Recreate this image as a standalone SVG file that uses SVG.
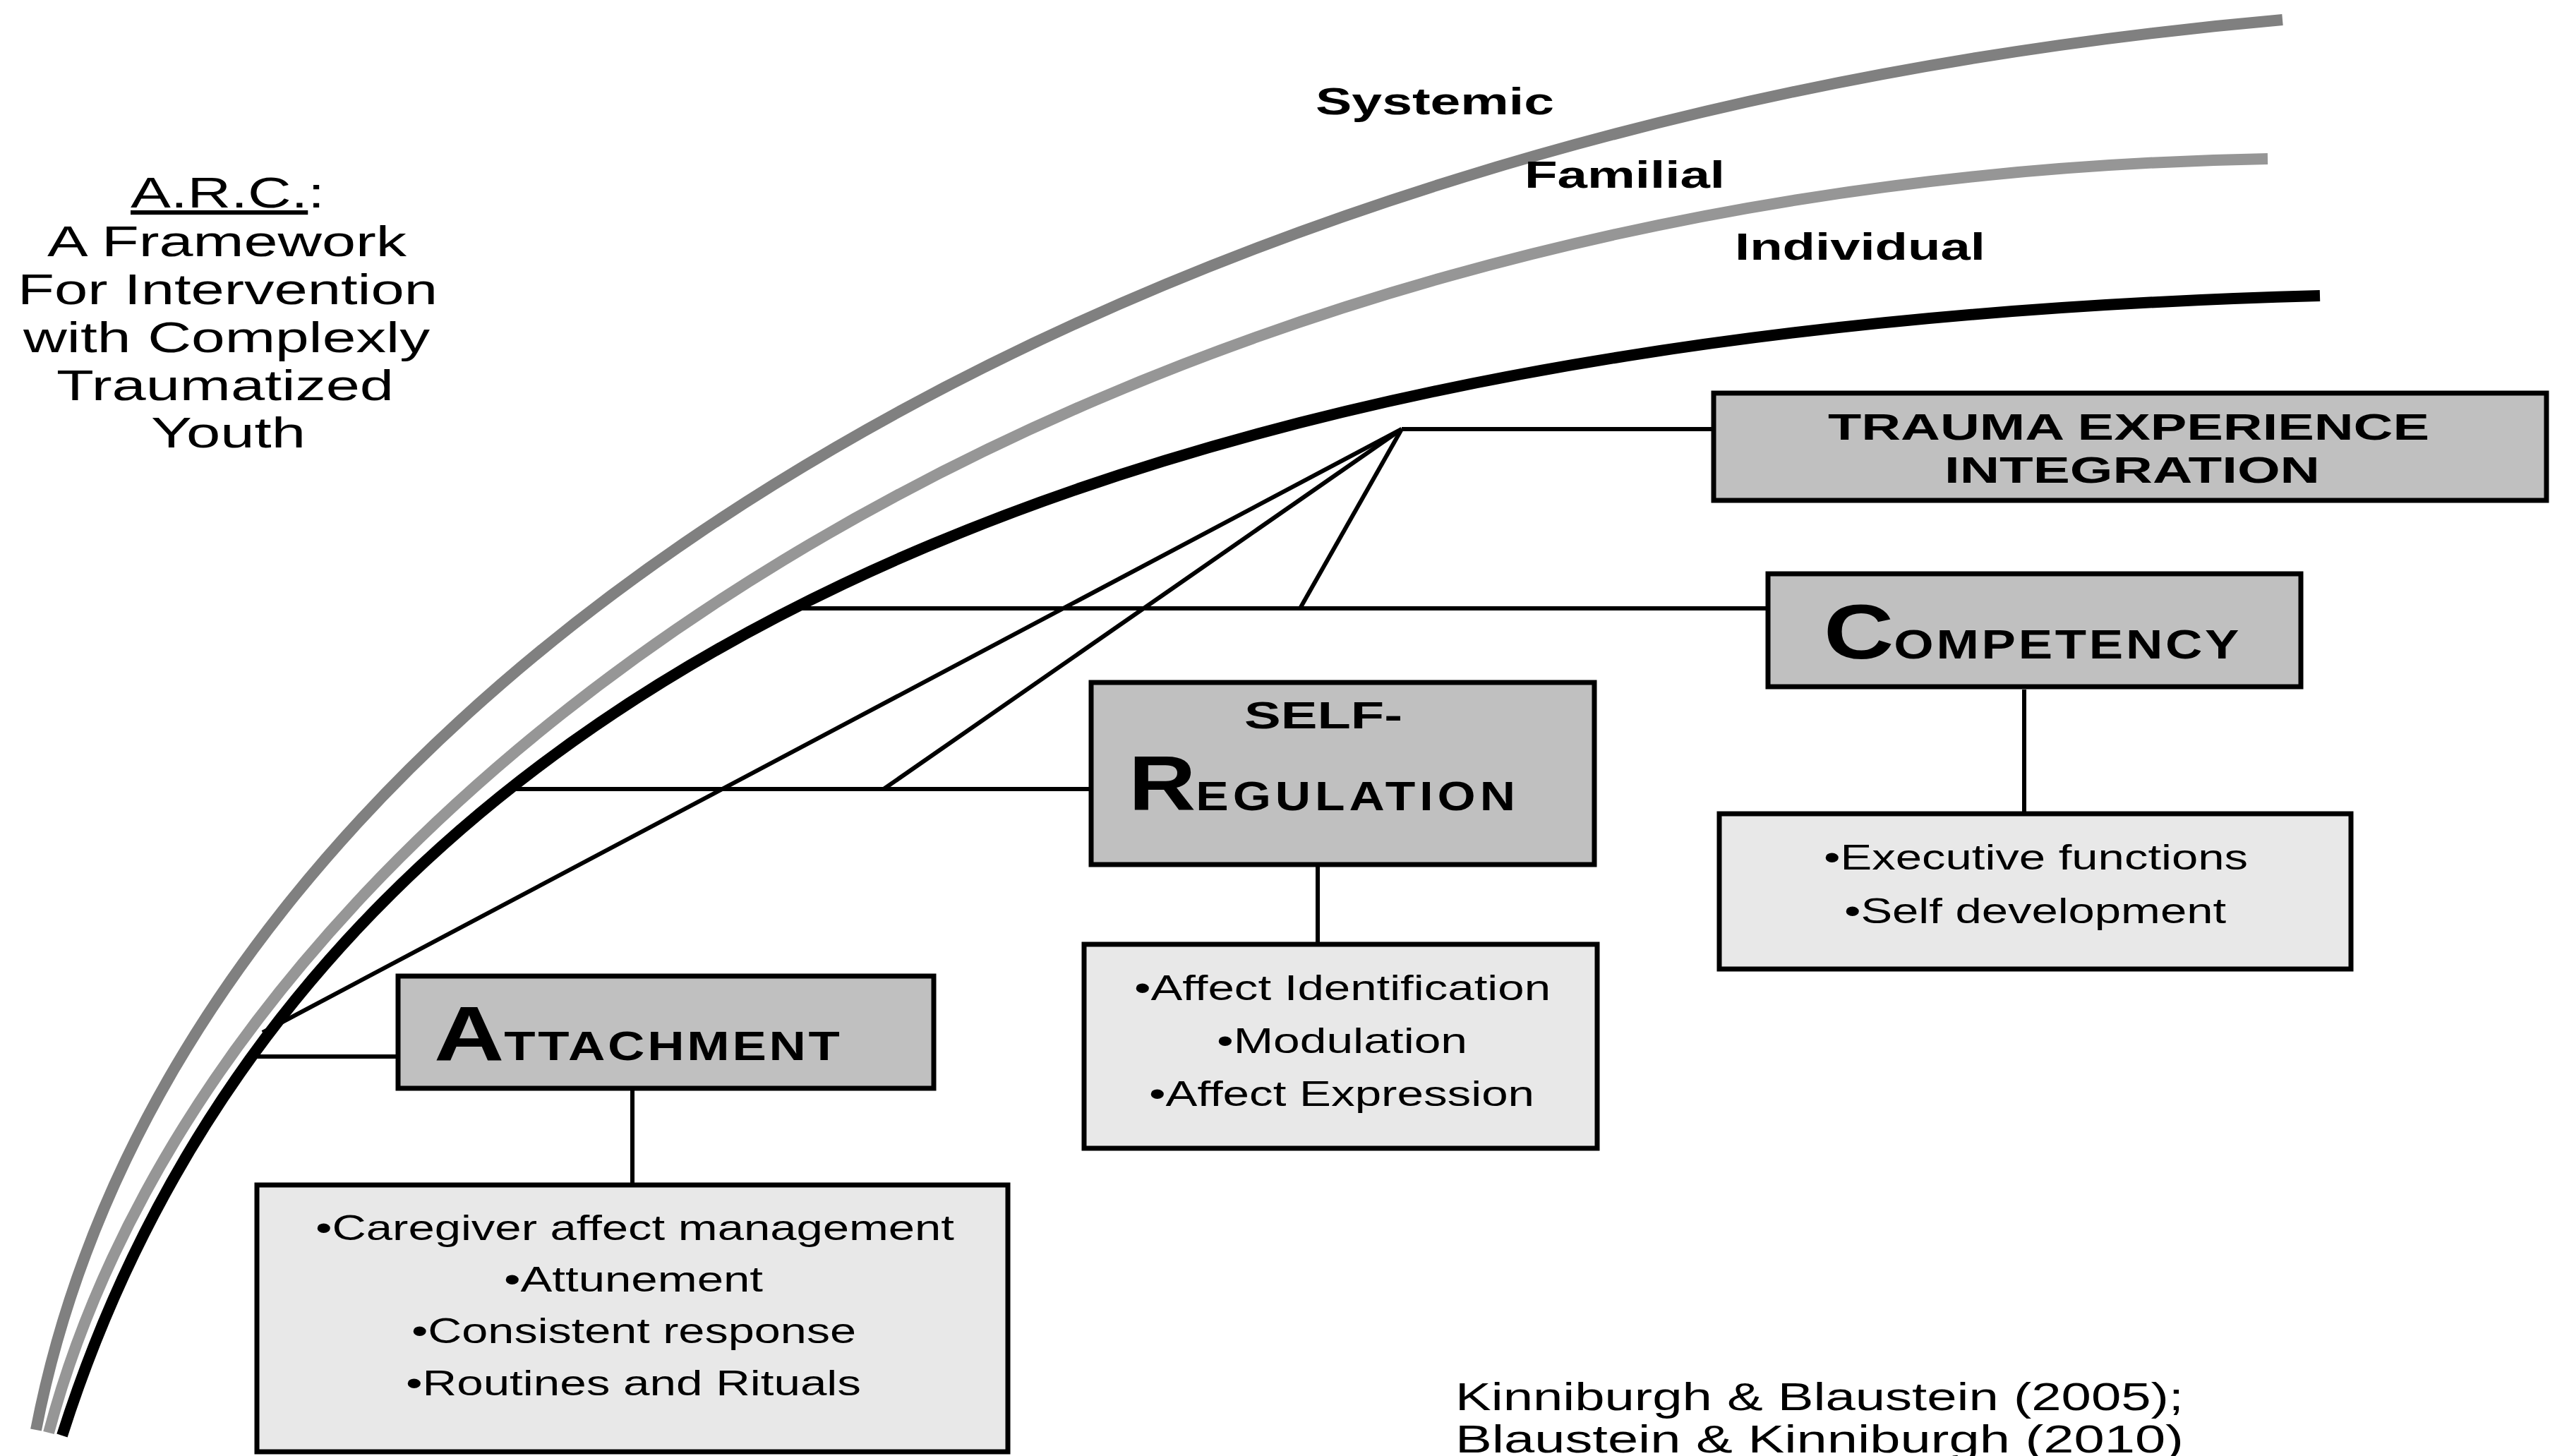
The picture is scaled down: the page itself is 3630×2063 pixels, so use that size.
<svg xmlns="http://www.w3.org/2000/svg" width="3630" height="2063" viewBox="0 0 3630 2063">
<style>
  .t { font-family: "Liberation Sans", Arial, sans-serif; fill: #000; }
  .b { font-weight: bold; }
  .hdr { fill: #c0c0c0; stroke: #000; stroke-width: 7; }
  .lst { fill: #e8e8e8; stroke: #000; stroke-width: 7; }
  .conn { stroke: #000; stroke-width: 6; fill: none; stroke-linecap: butt; }
  .arc { fill: none; stroke-linecap: butt; }
  .big { font-size: 110px; }
  .sc { font-size: 58px; letter-spacing: 3px; }
</style>
<rect width="3630" height="2063" fill="#fff"/>

<g id="layers">
  <path id="systemic-arc" class="arc" d="M51,2026 C255,972 1574,174 3234,28" stroke="#808080" stroke-width="16"/>
  <path id="familial-arc" class="arc" d="M69,2030 C313,1111 1551,255 3213,225" stroke="#969696" stroke-width="16"/>
  <path id="individual-arc" class="arc" d="M88,2034 C440,926 1621,463 3287,419" stroke="#000" stroke-width="16"/>
  <text id="lbl-systemic" class="t b" x="1864" y="162" font-size="54" textLength="338" lengthAdjust="spacingAndGlyphs">Systemic</text>
  <text id="lbl-familial" class="t b" x="2160" y="266" font-size="54" textLength="284" lengthAdjust="spacingAndGlyphs">Familial</text>
  <text id="lbl-individual" class="t b" x="2458" y="368" font-size="54" textLength="355" lengthAdjust="spacingAndGlyphs">Individual</text>
</g>

<g id="connectors">
  <line class="conn" x1="1986" y1="608" x2="2428" y2="608"/>
  <line class="conn" x1="1986" y1="608" x2="1842" y2="862"/>
  <line class="conn" x1="1986" y1="608" x2="1252" y2="1118"/>
  <line class="conn" x1="1986" y1="608" x2="372" y2="1463"/>
  <line class="conn" x1="1130" y1="862" x2="2505" y2="862"/>
  <line class="conn" x1="720" y1="1118" x2="1546" y2="1118"/>
  <line class="conn" x1="352" y1="1497" x2="563" y2="1497"/>
  <line class="conn" x1="896" y1="1543" x2="896" y2="1677"/>
  <line class="conn" x1="1867" y1="1227" x2="1867" y2="1336"/>
  <line class="conn" x1="2868" y1="977" x2="2868" y2="1150"/>
</g>

<g id="title">
  <text class="t" x="185" y="294" font-size="62" textLength="275" lengthAdjust="spacingAndGlyphs"><tspan text-decoration="underline">A.R.C.</tspan>:</text>
  <text class="t" x="67" y="363" font-size="62" textLength="509" lengthAdjust="spacingAndGlyphs">A Framework</text>
  <text class="t" x="25" y="431" font-size="62" textLength="595" lengthAdjust="spacingAndGlyphs">For Intervention</text>
  <text class="t" x="33" y="499" font-size="62" textLength="576" lengthAdjust="spacingAndGlyphs">with Complexly</text>
  <text class="t" x="80" y="567" font-size="62" textLength="478" lengthAdjust="spacingAndGlyphs">Traumatized</text>
  <text class="t" x="214" y="634" font-size="62" textLength="219" lengthAdjust="spacingAndGlyphs">Youth</text>
</g>

<g id="trauma">
  <rect class="hdr" x="2428" y="557" width="1180" height="152"/>
  <text class="t b" x="2590" y="623" font-size="52" textLength="852" lengthAdjust="spacingAndGlyphs">TRAUMA EXPERIENCE</text>
  <text class="t b" x="2755" y="684" font-size="52" textLength="532" lengthAdjust="spacingAndGlyphs">INTEGRATION</text>
</g>

<g id="competency">
  <rect class="hdr" x="2505" y="813" width="755" height="160"/>
  <text class="t b" transform="translate(2584,933) scale(1.25,1)"><tspan class="big">C</tspan><tspan class="sc">OMPETENCY</tspan></text>
</g>

<g id="competency-list">
  <rect class="lst" x="2436" y="1153" width="895" height="220"/>
  <text class="t" x="2584" y="1232" font-size="50" textLength="601" lengthAdjust="spacingAndGlyphs">•Executive functions</text>
  <text class="t" x="2613" y="1308" font-size="50" textLength="541" lengthAdjust="spacingAndGlyphs">•Self development</text>
</g>

<g id="self-regulation">
  <rect class="hdr" x="1546" y="967" width="713" height="258"/>
  <text class="t b" x="1763" y="1032" font-size="54" textLength="224" lengthAdjust="spacingAndGlyphs">SELF-</text>
  <text class="t b" transform="translate(1599,1148) scale(1.2,1)"><tspan class="big">R</tspan><tspan class="sc" style="letter-spacing:5px">EGULATION</tspan></text>
</g>

<g id="self-regulation-list">
  <rect class="lst" x="1536" y="1338" width="727" height="289"/>
  <text class="t" x="1607" y="1417" font-size="50" textLength="590" lengthAdjust="spacingAndGlyphs">•Affect Identification</text>
  <text class="t" x="1724" y="1492" font-size="50" textLength="355" lengthAdjust="spacingAndGlyphs">•Modulation</text>
  <text class="t" x="1628" y="1567" font-size="50" textLength="546" lengthAdjust="spacingAndGlyphs">•Affect Expression</text>
</g>

<g id="attachment">
  <rect class="hdr" x="564" y="1383" width="759" height="159"/>
  <text class="t b" transform="translate(615,1502) scale(1.25,1)"><tspan class="big">A</tspan><tspan class="sc">TTACHMENT</tspan></text>
</g>

<g id="attachment-list">
  <rect class="lst" x="364" y="1679" width="1064" height="378"/>
  <text class="t" x="447" y="1757" font-size="50" textLength="905" lengthAdjust="spacingAndGlyphs">•Caregiver affect management</text>
  <text class="t" x="714" y="1830" font-size="50" textLength="367" lengthAdjust="spacingAndGlyphs">•Attunement</text>
  <text class="t" x="583" y="1903" font-size="50" textLength="630" lengthAdjust="spacingAndGlyphs">•Consistent response</text>
  <text class="t" x="575" y="1977" font-size="50" textLength="645" lengthAdjust="spacingAndGlyphs">•Routines and Rituals</text>
</g>

<g id="citation">
  <text class="t" x="2062" y="1998" font-size="56" textLength="1032" lengthAdjust="spacingAndGlyphs">Kinniburgh &amp; Blaustein (2005);</text>
  <text class="t" x="2062" y="2058" font-size="56" textLength="1032" lengthAdjust="spacingAndGlyphs">Blaustein &amp; Kinniburgh (2010)</text>
</g>
</svg>
